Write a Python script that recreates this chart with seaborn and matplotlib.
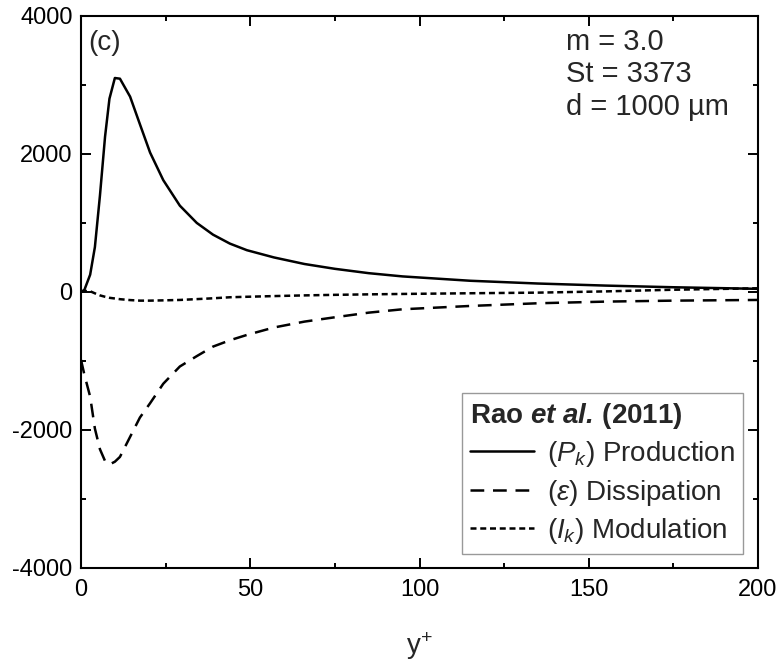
import numpy as np
import pandas as pd
import matplotlib
matplotlib.use("Agg")
import matplotlib.pyplot as plt
import seaborn as sns
from matplotlib.ticker import MultipleLocator

# y+ positions and TKE budget terms
y_plus = [0, 1, 2.7, 4.1, 5.6, 7.1, 8.4, 10, 11.5, 14.5, 17.4, 20.4, 24.3, 29.2,
          34.2, 39, 44, 49, 57, 66, 75, 85, 95, 115, 135, 155, 175, 200]
production = [0, 30, 250, 650, 1400, 2250, 2800, 3100, 3090, 2830, 2430, 2020, 1620, 1250,
              1000, 830, 700, 605, 500, 405, 335, 272, 225, 162, 122, 92, 68, 45]
dissipation = [-985, -1200, -1517, -1980, -2280, -2450, -2500, -2460, -2390, -2100, -1820, -1613, -1330, -1080,
               -930, -792, -700, -623, -515, -430, -367, -300, -251, -203, -164, -140, -126, -116]
modulation = [0, 15, 10, -20, -50, -70, -85, -95, -105, -118, -126, -126, -122, -116,
              -104, -92, -77, -70, -60, -50, -42, -35, -29, -19, -10, 8, 32, 53]

labels = [r"($P_k$) Production", r"($\varepsilon$) Dissipation", r"($I_k$) Modulation"]
legend_title = r"Rao $\mathbfit{et\ al.}\,$(2011)"
info_lines = ["m = 3.0", "St = 3373", "d = 1000 µm"]

sns.set_style("ticks")
plt.rcParams["font.family"] = ["Liberation Sans", "DejaVu Sans"]
plt.rcParams["axes.unicode_minus"] = False
plt.rcParams["mathtext.fontset"] = "custom"
plt.rcParams["mathtext.rm"] = "Liberation Sans"
plt.rcParams["mathtext.it"] = "Liberation Sans:italic"
plt.rcParams["mathtext.bf"] = "Liberation Sans:bold"
plt.rcParams["mathtext.bfit"] = "Liberation Sans:bold:italic"

fig = plt.figure(figsize=(7.82, 6.62), dpi=100)
ax = fig.add_axes([0.1036, 0.142, 0.8657, 0.834])

lw = 1.8
sns.lineplot(x=y_plus, y=production, ax=ax, color="black", lw=lw, label=labels[0], errorbar=None)
sns.lineplot(x=y_plus, y=dissipation, ax=ax, color="black", lw=lw, label=labels[1],
             linestyle=(0, (5.5, 3.5)), errorbar=None)
sns.lineplot(x=y_plus, y=modulation, ax=ax, color="black", lw=lw, label=labels[2],
             linestyle=(0, (2.4, 1.5)), errorbar=None)

ax.set_xlim(0, 200)
ax.set_ylim(-4000, 4000)
ax.xaxis.set_major_locator(MultipleLocator(50))
ax.xaxis.set_minor_locator(MultipleLocator(25))
ax.yaxis.set_major_locator(MultipleLocator(2000))
ax.yaxis.set_minor_locator(MultipleLocator(1000))
ax.tick_params(which="both", direction="in", top=True, right=True, width=1.4, colors="black")
ax.tick_params(which="major", length=7, labelsize=17)
ax.tick_params(axis="x", which="major", pad=8)
ax.tick_params(axis="y", which="major", pad=6)
ax.tick_params(which="minor", length=3.5)
for s in ax.spines.values():
    s.set_linewidth(1.5)
    s.set_color("black")

ax.set_xlabel(r"y$^{+}$", fontsize=20, labelpad=21)
ax.set_ylabel("")

ax.text(0.010, 0.975, "(c)", transform=ax.transAxes, fontsize=20, va="top", ha="left")
ax.text(0.716, 0.978, "\n".join(info_lines), transform=ax.transAxes, fontsize=21,
        va="top", ha="left", linespacing=1.2)

leg = ax.legend(title=legend_title, loc="lower right", bbox_to_anchor=(0.978, 0.025),
                borderaxespad=0, fontsize=20, title_fontproperties={"size": 20, "weight": "bold"},
                alignment="left", frameon=True, fancybox=False, edgecolor="0.5",
                handlelength=2.3, handletextpad=0.45, labelspacing=0.3, borderpad=0.3)
leg.get_frame().set_linewidth(1.0)

fig.savefig("out.png", dpi=100)
